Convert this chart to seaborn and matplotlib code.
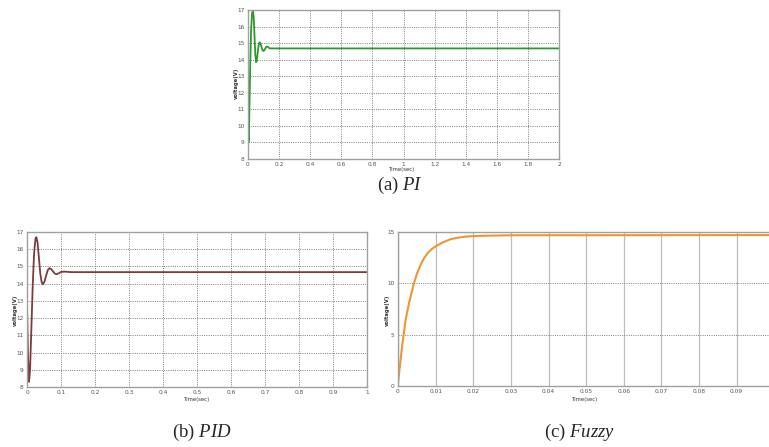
import numpy as np
import pandas as pd
import matplotlib
matplotlib.use("Agg")
import matplotlib.pyplot as plt
import seaborn as sns

# PI response (time in s, voltage in V)
pi_t = [0, 0.004, 0.008, 0.014, 0.02, 0.026, 0.032, 0.037, 0.042, 0.047, 0.052, 0.056,
        0.062, 0.068, 0.074, 0.080, 0.087, 0.094, 0.101, 0.108, 0.116, 0.124, 0.132,
        0.14, 0.2, 2.0]
pi_v = [12.5, 9.0, 10.5, 13.5, 15.8, 16.8, 17.0, 16.5, 15.4, 14.3, 13.85, 13.9,
        14.4, 14.85, 15.05, 15.0, 14.75, 14.55, 14.53, 14.62, 14.76, 14.79, 14.74,
        14.68, 14.68, 14.68]

# PID response
pid_t = [0, 0.003, 0.006, 0.009, 0.013, 0.017, 0.021, 0.025, 0.0275, 0.031, 0.035,
         0.039, 0.043, 0.047, 0.051, 0.056, 0.061, 0.066, 0.071, 0.077, 0.082, 0.087,
         0.093, 0.1, 0.11, 0.13, 1.0]
pid_v = [12.8, 9.8, 8.3, 9.0, 11.5, 14.0, 15.8, 16.6, 16.7, 16.4, 15.5,
         14.6, 14.1, 13.97, 14.1, 14.45, 14.78, 14.9, 14.85, 14.7, 14.58, 14.55,
         14.6, 14.68, 14.7, 14.67, 14.67]

# Fuzzy response
fz_t = [0, 0.001, 0.002, 0.003, 0.004, 0.005, 0.006, 0.007, 0.008, 0.009, 0.010,
        0.012, 0.014, 0.016, 0.018, 0.02, 0.025, 0.03, 0.0986]
fz_v = [0.3, 3.6, 6.4, 8.2, 9.7, 10.9, 11.8, 12.5, 13.0, 13.35, 13.6,
        14.0, 14.3, 14.45, 14.55, 14.6, 14.65, 14.68, 14.7]

pi_xticks = [0, 0.2, 0.4, 0.6, 0.8, 1, 1.2, 1.4, 1.6, 1.8, 2]
pi_xlabels = ["0", "0.2", "0.4", "0.6", "0.8", "1", "1.2", "1.4", "1.6", "1.8", "2"]
pid_xticks = [0, 0.1, 0.2, 0.3, 0.4, 0.5, 0.6, 0.7, 0.8, 0.9, 1]
pid_xlabels = ["0", "0.1", "0.2", "0.3", "0.4", "0.5", "0.6", "0.7", "0.8", "0.9", "1"]
fz_xticks = [0, 0.01, 0.02, 0.03, 0.04, 0.05, 0.06, 0.07, 0.08, 0.09]
fz_xlabels = ["0", "0.01", "0.02", "0.03", "0.04", "0.05", "0.06", "0.07", "0.08", "0.09"]
volt_ticks = [8, 9, 10, 11, 12, 13, 14, 15, 16, 17]
fz_yticks = [0, 5, 10, 15]

sns.set_style("white")
plt.rcParams['font.family'] = ['DejaVu Sans']
plt.rcParams['mathtext.fontset'] = 'custom'
plt.rcParams['mathtext.rm'] = 'Liberation Serif'
plt.rcParams['mathtext.it'] = 'Liberation Serif:italic'

W, H = 769, 447
fig = plt.figure(figsize=(W / 100, H / 100), dpi=100)


def box(l, t, r, b):
    return [l / W, 1 - b / H, (r - l) / W, (b - t) / H]


def style(ax, xt, xl, yt, xlim, ylim, lab_x, lab_y, time_xy):
    ax.set_xlim(*xlim)
    ax.set_ylim(*ylim)
    ax.set_xticks(xt)
    ax.set_xticklabels(xl)
    ax.set_yticks(yt)
    ax.set_yticklabels([str(v) for v in yt])
    ax.tick_params(labelsize=4.2, colors="#555555", length=1.5, width=0.5, pad=1)
    ax.grid(True, linestyle=(0, (1, 1.3)), color="#808080", linewidth=0.7)
    for s in ax.spines.values():
        s.set_color("#a0a0a0")
        s.set_linewidth(1.0)
    ax.set_xlabel("")
    ax.set_ylabel("")
    fig.text(lab_x / W, 1 - lab_y / H, "voltage(V)", rotation=90, fontsize=3.8,
             ha="center", va="center", color="#333333", fontweight="bold")
    fig.text(time_xy[0] / W, 1 - time_xy[1] / H, "Time(sec)", fontsize=3.8,
             ha="center", va="center", color="#333333")


# (a) PI
ax1 = fig.add_axes(box(248, 10, 559, 159))
sns.lineplot(x=pi_t, y=pi_v, ax=ax1, color="#2e9a2e", linewidth=1.3)
style(ax1, pi_xticks, pi_xlabels, volt_ticks, (0, 2), (8, 17), 236, 83, (402, 170))

# (b) PID
ax2 = fig.add_axes(box(27, 232, 367, 387))
sns.lineplot(x=pid_t, y=pid_v, ax=ax2, color="#7d3b3b", linewidth=1.3)
style(ax2, pid_xticks, pid_xlabels, volt_ticks, (0, 1), (8, 17), 15, 310, (197, 400))

# (c) Fuzzy
ax3 = fig.add_axes(box(398, 232, 769, 386))
sns.lineplot(x=fz_t, y=fz_v, ax=ax3, color="#ee9535", linewidth=1.5)
style(ax3, fz_xticks, fz_xlabels, fz_yticks, (0, 0.0986), (0, 15), 387, 310, (585, 399))
ax3.grid(True, axis="x", linestyle="-", color="#bdbdbd", linewidth=0.9)
ax3.spines["right"].set_visible(False)

# captions
fig.text(400 / W, 1 - 185 / H, r"(a) $\mathit{PI}$", fontsize=13.5, ha="center",
         va="center", family="Liberation Serif")
fig.text(202 / W, 1 - 432 / H, r"(b) $\mathit{PID}$", fontsize=13.5, ha="center",
         va="center", family="Liberation Serif")
fig.text(580 / W, 1 - 432 / H, r"(c) $\mathit{Fuzzy}$", fontsize=13.5, ha="center",
         va="center", family="Liberation Serif")

fig.savefig("out.png", dpi=100)
